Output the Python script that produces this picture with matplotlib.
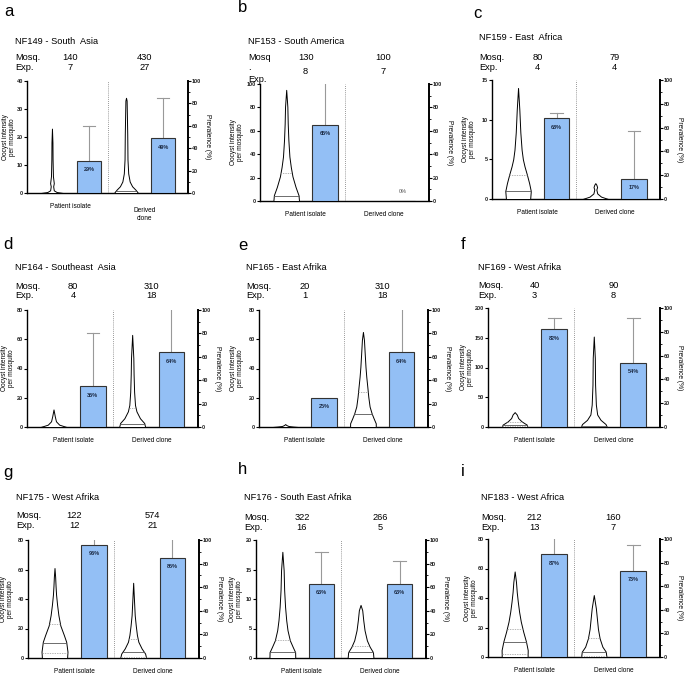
import numpy as np
import matplotlib.pyplot as plt
from matplotlib import transforms
from matplotlib.ticker import MultipleLocator

plt.rcParams['font.family'] = ['Liberation Sans', 'DejaVu Sans']

W, H = 685, 676

letters = ['a', 'b', 'c', 'd', 'e', 'f', 'g', 'h', 'i']
titles = ['NF149 - South  Asia', 'NF153 - South America', 'NF159 - East  Africa',
          'NF164 - Southeast  Asia', 'NF165 - East Afrika', 'NF169 - West Afrika',
          'NF175 - West Afrika', 'NF176 - South East Afrika', 'NF183 - West Africa']
mosq = [(140, 430), (130, 100), (80, 79), (80, 310), (20, 310), (40, 90),
        (122, 574), (322, 266), (212, 160)]
exps = [(7, 27), (8, 7), (4, 4), (4, 18), (1, 18), (3, 8), (12, 21), (16, 5), (13, 7)]

# oocyst intensity axis
int_max = [40, 100, 15, 80, 80, 200, 80, 20, 80]
int_step = [10, 20, 5, 20, 20, 50, 20, 5, 20]

# prevalence bars (%) and top of error bar (None = no error bar)
prev = [(29, 49), (65, 0), (68, 17), (35, 64), (25, 64), (82, 54), (96, 85), (63, 63), (87, 73)]
prev_err = [(60, 85), (105, None), (72, 57), (80, 105), (None, 105), (92, 92),
            (105, 105), (90, 82), (105, 95)]

# violin summary lines (oocysts)
medians = [(None, 0.6), (4.3, None), (1, None), (None, 2), (None, 9), (4, 2),
           (10.4, 4.3), (1, 1), (10, 3.6)]
q1s = [(None, None), (None, None), (None, None), (None, None), (None, None), (1, None),
       (3.6, 1), (None, None), (2, 1)]
q3s = [(None, None), (23.6, None), (3, None), (None, 13), (None, 24), (9, None),
       (22.8, 12.6), (3, 2), (18.9, 12.7)]

# violin density profiles: (oocysts, relative half width)
violins = [
    ([(0, 0.9), (0.35, 0.38), (0.95, 0.15), (2.4, 0.1), (3.5, 0.15), (6, 0.08), (12, 0.05), (18, 0.04), (23, 0)],
     [(0, 0.97), (0.2, 0.95), (1.2, 0.77), (2.4, 0.5), (4.1, 0.3), (7, 0.18), (12, 0.12), (21, 0.1),
      (33, 0.05), (34, 0)]),
    ([(0, 1.0), (5, 0.96), (12, 0.73), (21, 0.49), (29, 0.36), (38, 0.25), (52, 0.17), (66, 0.12),
      (80.6, 0.09), (95, 0)],
     []),
    ([(0, 0.95), (1, 1.0), (2, 0.87), (3.1, 0.69), (4.1, 0.51), (5, 0.38), (6.2, 0.28), (8.4, 0.18),
      (11.3, 0.1), (14, 0)],
     [(0, 1.0), (0.3, 0.45), (0.7, 0.15), (1.2, 0.08), (1.5, 0.14), (1.8, 0.08), (2, 0)]),
    ([(0, 1.0), (1.6, 0.44), (3.9, 0.19), (7.3, 0.1), (12, 0)],
     [(0, 1.0), (2.7, 0.93), (6, 0.6), (10.7, 0.33), (15, 0.22), (24, 0.15), (36, 0.11), (47, 0.09), (63, 0)]),
    ([(0, 1.0), (0.3, 0.6), (0.7, 0.25), (1.2, 0.12), (1.6, 0.05), (2, 0)],
     [(0, 1.0), (2.5, 1.0), (6, 0.83), (9.3, 0.68), (14, 0.52), (20.5, 0.42), (27.6, 0.34), (34.4, 0.26),
      (41, 0.2), (50, 0.14), (59.5, 0.08), (65, 0)]),
    ([(0, 0.97), (3.9, 0.93), (9.5, 0.53), (15, 0.27), (21, 0.16), (25, 0)],
     [(0, 1.0), (5, 0.9), (12, 0.52), (21, 0.26), (37.5, 0.16), (71, 0.1), (116, 0.08), (152, 0)]),
    ([(0, 0.97), (4.3, 1.0), (11, 0.9), (15.6, 0.72), (22, 0.45), (29, 0.3), (36, 0.2), (43, 0.12),
      (49, 0.08), (55, 0.05), (61, 0)],
     [(0, 1.0), (3, 0.92), (6.5, 0.65), (11, 0.4), (15.6, 0.29), (22, 0.2), (29, 0.12), (38, 0.07), (51, 0)]),
    ([(0, 1.0), (1, 0.99), (1.9, 0.8), (3, 0.58), (4.7, 0.4), (6.4, 0.3), (8.7, 0.21), (11.5, 0.14),
      (14.9, 0.1), (18, 0)],
     [(0, 1.0), (1, 0.96), (1.9, 0.71), (3, 0.49), (4.7, 0.31), (6.4, 0.21), (8.1, 0.13), (9, 0)]),
    ([(0, 0.99), (4.7, 1.0), (10.4, 0.87), (17, 0.66), (24, 0.47), (30.7, 0.34), (37.5, 0.24), (44, 0.16),
      (51, 0.1), (58, 0)],
     [(0, 0.97), (3.6, 0.92), (7, 0.66), (12.6, 0.45), (19, 0.32), (26, 0.24), (33, 0.16), (42, 0)]),
]

# layout in pixels
axes_px = [(27, 81, 188, 193), (260, 84, 429, 201), (492, 80, 660, 199),
           (27, 310, 198, 427), (259, 310, 428, 427), (488, 308, 660, 427),
           (28, 540, 199, 658), (256, 540, 426, 658), (488, 539, 660, 657)]
title_px = [(15, 41), (248, 41), (479, 38), (15, 268), (246, 268), (478, 267),
            (16, 497), (244, 498), (481, 498)]
letter_px = [(4, 12), (238, 8), (473, 13), (3, 244), (238, 245), (461, 244),
             (3, 472), (238, 470), (461, 472)]
rows_px = [(58, 68), (58, 71), (57, 67), (286, 296), (286, 296), (285, 296),
           (516, 526), (517, 527), (517, 527)]
ylab_gap = [18, 23, 23, 19, 22, 21, 21, 20, 17]

BLUE = '#93bff5'
HW = 0.33
XL = (-0.674, 3.674)

fig = plt.figure(figsize=(W / 100, H / 100), dpi=100)

for k in range(9):
    l, t, r, b = axes_px[k]
    ax = fig.add_axes([l / W, 1 - b / H, (r - l) / W, (b - t) / H])
    ax2 = ax.twinx()
    ax.set_xlim(*XL)
    ax.set_ylim(0, int_max[k])
    ax2.set_ylim(0, 100)

    for j, c in enumerate([0, 2]):
        prof = violins[k][j]
        if prof:
            ys = np.array([p[0] for p in prof], dtype=float)
            ws = np.array([p[1] for p in prof], dtype=float)
            ax.fill_betweenx(ys, c - ws * HW, c + ws * HW, facecolor='white',
                             edgecolor='black', lw=0.7, zorder=3)
            for val, style, col in [(q1s[k][j], '--', '#999999'), (q3s[k][j], '--', '#999999'),
                                    (medians[k][j], '-', '#555555')]:
                if val is not None:
                    w = np.interp(val, ys, ws) * HW
                    if style == '--':
                        ax.plot([c - w, c + w], [val, val], color=col, lw=0.5,
                                dashes=(2, 1.5), zorder=4)
                    else:
                        ax.plot([c - w, c + w], [val, val], color=col, lw=0.6, zorder=4)
        # bars
        bc = c + 1
        ax2.bar(bc, prev[k][j], width=0.65, color=BLUE, edgecolor='#333333', lw=0.8, zorder=2)
        e = prev_err[k][j]
        if e is not None:
            ax2.plot([bc, bc], [prev[k][j], e], color='#999999', lw=0.8, zorder=1)
            ax2.plot([bc - 0.16, bc + 0.16], [e, e], color='#999999', lw=0.8, zorder=1)
        if prev[k][j] > 0:
            ax2.annotate(f'{prev[k][j]}%', (bc, prev[k][j]), xytext=(0, -6.5),
                         textcoords='offset points', ha='center', va='center',
                         fontsize=4.0, fontweight='bold', color='#1c2b45', zorder=5)
        else:
            ax2.annotate('0%', (bc, 0), xytext=(0, 7), textcoords='offset points',
                         ha='center', va='center', fontsize=4.0, color='#555555')

    ax.axvline(1.5, color='#777777', lw=0.6, ls=(0, (1, 1.5)), zorder=1)

    for s in ['top', 'right']:
        ax.spines[s].set_visible(False)
    for s in ['top', 'left', 'bottom']:
        ax2.spines[s].set_visible(False)
    ax.spines['left'].set_linewidth(1.0)
    ax.spines['bottom'].set_linewidth(1.0)
    ax2.spines['right'].set_linewidth(1.4)
    ax.set_xticks([])
    ax.yaxis.set_major_locator(MultipleLocator(int_step[k]))
    ax2.yaxis.set_major_locator(MultipleLocator(20))
    ax2.yaxis.set_minor_locator(MultipleLocator(10))
    for a in (ax, ax2):
        a.tick_params(axis='y', which='major', length=2, width=0.8, pad=1,
                      labelsize=4.0, labelcolor='#222222')
        a.tick_params(axis='y', which='minor', length=1.2, width=0.6)
        for lab in a.get_yticklabels():
            lab.set_fontweight('bold')

    ax.set_ylabel('Oocyst intensity\nper mosquito', fontsize=4.7, linespacing=1.1,
                  va='center', ha='center')
    ax.yaxis.set_label_coords(-ylab_gap[k] / (r - l), 0.5)
    ax2.set_ylabel('Prevalence (%)', fontsize=4.8, rotation=270, va='center', ha='center')
    ax2.yaxis.set_label_coords(1 + 20 / (r - l), 0.5)

    labels = ['Patient isolate', 'Derived\nclone' if k == 0 else 'Derived clone']
    for j, c in enumerate([0.5, 2.5]):
        ax.annotate(labels[j], (c, 0), xytext=(0, -10), textcoords='offset points',
                    ha='center', va='top' if k == 0 and j == 1 else 'center',
                    fontsize=4.7, linespacing=1.2, annotation_clip=False)

    # header texts
    tx, ty = title_px[k]
    fig.text(tx / W, 1 - ty / H, titles[k], fontsize=6.7, va='center', ha='left')
    lx, ly = letter_px[k]
    fig.text(lx / W, 1 - ly / H, letters[k], fontsize=12, va='center', ha='left')
    r1, r2 = rows_px[k]
    if k == 1:
        fig.text(tx / W, 1 - r1 / H, 'Mosq', fontsize=6.7, va='center')
        fig.text(tx / W, 1 - (r1 + 10) / H, '.', fontsize=6.7, va='center')
        fig.text(tx / W, 1 - (r1 + 21) / H, 'Exp.', fontsize=6.7, va='center')
    else:
        fig.text(tx / W, 1 - r1 / H, 'Mosq.', fontsize=6.7, va='center')
        fig.text(tx / W, 1 - r2 / H, 'Exp.', fontsize=6.7, va='center')
    tr = transforms.blended_transform_factory(ax.transData, fig.transFigure)
    for j, c in enumerate([0.5, 2.5]):
        fig.text(c, 1 - r1 / H, str(mosq[k][j]), transform=tr, fontsize=6.7,
                 ha='center', va='center')
        fig.text(c, 1 - r2 / H, str(exps[k][j]), transform=tr, fontsize=6.7,
                 ha='center', va='center')

fig.savefig('out.png', dpi=100, facecolor='white')
